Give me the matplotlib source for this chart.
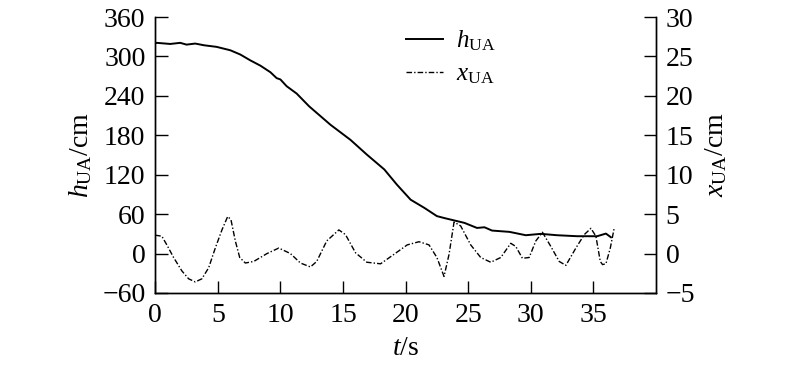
"""
Height and horizontal offset of the UA over time
"""

import matplotlib
matplotlib.use('Agg')
import matplotlib.pyplot as plt

# h_UA (cm)
h_t = [0.0, 0.13, 1.2, 2.0, 2.5, 3.2, 3.9, 4.9, 6.0, 6.8, 7.6, 8.4, 9.2,
       9.7, 10.0, 10.5, 11.3, 12.3, 14.0, 15.6, 16.9, 18.3, 19.3, 20.4,
       21.5, 22.5, 23.1, 23.6, 24.7, 25.7, 26.3, 26.9, 28.3, 29.6, 30.8,
       32.1, 33.7, 35.3, 36.0, 36.4]
h_val = [320, 320.7, 319, 320.7, 318, 319.6, 317, 314.6, 309.4, 302.9, 294,
         286, 276, 267, 265, 254.7, 243.5, 224, 196, 173, 150.7, 128, 105,
         82, 69.5, 57, 54, 51.7, 46.7, 39, 40, 35, 33, 27.9, 30, 27.9, 26.4,
         26.4, 30.4, 24.8]

# x_UA (cm)
x_t = [0.0, 0.13, 0.53, 0.93, 1.47, 2.13, 2.67, 3.2, 3.73, 4.27, 4.8, 5.33,
       5.79, 6.05, 6.4, 6.75, 7.2, 7.87, 8.93, 9.87, 10.8, 11.6, 12.4, 12.9,
       13.7, 14.67, 15.2, 16.0, 16.9, 18.0, 19.07, 20.13, 21.07, 21.87,
       22.5, 23.07, 23.47, 23.87, 24.4, 25.2, 26.0, 26.8, 27.6, 28.4, 28.8,
       29.33, 29.87, 30.4, 30.93, 31.6, 32.27, 32.8, 33.6, 34.27, 34.8,
       35.2, 35.55, 35.73, 36.0, 36.35, 36.67]
x_val = [2.3, 2.3, 2.2, 1.1, -0.5, -2.2, -3.2, -3.6, -3.2, -1.8, 0.7, 3.0,
         4.7, 4.3, 1.6, -0.5, -1.2, -1.0, 0.0, 0.7, 0.0, -1.2, -1.7, -1.0,
         1.6, 3.0, 2.4, 0.1, -1.1, -1.3, -0.1, 1.1, 1.5, 1.1, -0.5, -2.9,
         -0.1, 4.0, 3.5, 1.1, -0.5, -1.1, -0.5, 1.3, 0.9, -0.6, -0.5, 1.6,
         2.7, 0.9, -1.0, -1.5, 0.7, 2.4, 3.2, 2.2, -1.0, -1.4, -1.3, 0.7,
         3.3]

h_ticks = [-60, 0, 60, 120, 180, 240, 300, 360]
x_ticks = [-5, 0, 5, 10, 15, 20, 25, 30]
t_ticks = [0, 5, 10, 15, 20, 25, 30, 35]

# Times-like fonts
plt.rcParams['font.family'] = 'Liberation Serif'
plt.rcParams['mathtext.fontset'] = 'custom'
plt.rcParams['mathtext.rm'] = 'Liberation Serif'
plt.rcParams['mathtext.it'] = 'Liberation Serif:italic'
plt.rcParams['font.size'] = 20

fig = plt.figure(figsize=(8.0, 3.66), dpi=100)
ax = fig.add_axes([0.194, 0.1995, 0.626, 0.754])
ax2 = ax.twinx()

# Draws the two curves
l1, = ax.plot(h_t, h_val, color='black', lw=1.4, label=r'$h_{\mathrm{UA}}$')
l2, = ax2.plot(x_t, x_val, color='black', lw=1.0,
               linestyle=(0, (4, 1.5, 1, 1.5)), label=r'$x_{\mathrm{UA}}$')

ax.set_xlim(0, 40)
ax.set_ylim(-60, 360)
ax2.set_ylim(-5, 30)
ax.set_xticks(t_ticks)
ax.set_yticks(h_ticks)
ax2.set_yticks(x_ticks)
ax.set_yticklabels([str(v).replace('-', '\u2212') for v in h_ticks])
ax2.set_yticklabels([str(v).replace('-', '\u2212') for v in x_ticks])

for a in (ax, ax2):
    a.spines['top'].set_visible(False)
    for s in a.spines.values():
        s.set_linewidth(1.0)
    a.tick_params(direction='in', length=9, width=1.0, labelsize=20, pad=7)

ax.set_xlabel(r'$t$/s', fontsize=20, labelpad=6)
ax.set_ylabel(r'$h_{\mathrm{UA}}$/cm', fontsize=20, labelpad=6)
ax2.set_ylabel(r'$x_{\mathrm{UA}}$/cm', fontsize=20, labelpad=6)

ax.legend(handles=[l1, l2], loc='upper left', bbox_to_anchor=(0.455, 1.04),
          frameon=False, fontsize=18, handlelength=1.5, labelspacing=0.4,
          handletextpad=0.5)

fig.savefig('out.png', dpi=100)
